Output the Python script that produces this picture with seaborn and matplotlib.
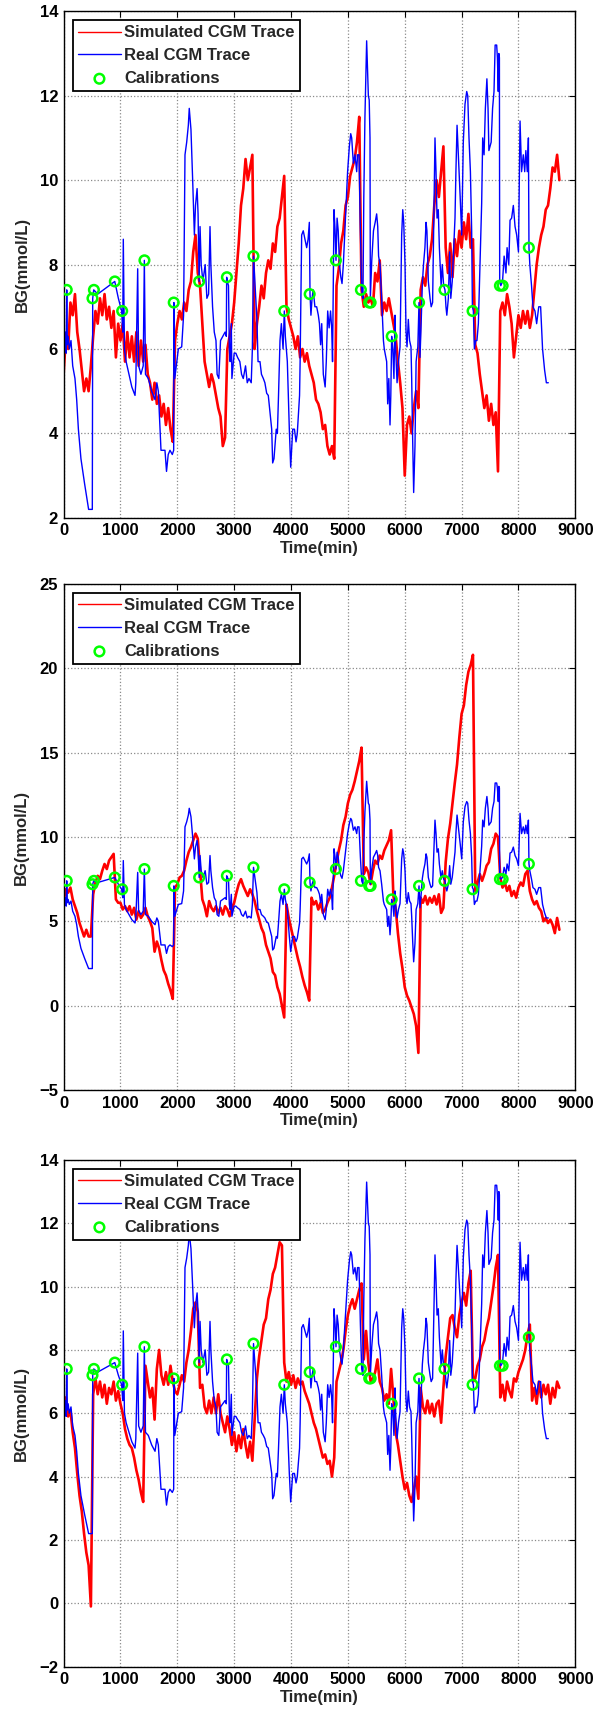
import matplotlib
matplotlib.use("Agg")
import matplotlib.pyplot as plt
import seaborn as sns

# simulated CGM traces, read every 40 min (0 .. 8720)
sim_time = list(range(0, 8721, 40))

sim_a = [5.4, 6.3, 6.0, 7.1, 6.8, 7.3, 6.4, 6.0, 5.5, 5.0, 5.3, 5.0, 5.6, 6.3, 6.9, 6.6, 7.2, 6.8, 7.3, 6.7, 7.0, 6.5, 6.9, 5.8, 6.6,
         6.2, 6.6, 5.7, 6.4, 5.8, 6.3, 5.7, 6.4, 5.6, 6.2, 5.7, 6.1, 5.4, 5.2, 4.8, 5.2, 4.7, 4.9, 4.4, 4.7, 4.2, 4.6, 4.1, 3.8, 6.2,
         6.6, 6.9, 6.7, 7.1, 6.9, 7.4, 7.6, 8.3, 8.7, 7.8, 7.5, 6.6, 5.7, 5.4, 5.1, 5.4, 5.2, 4.9, 4.6, 4.4, 3.7, 3.9, 6.0, 6.3, 6.6,
         7.1, 7.8, 8.5, 9.4, 9.8, 10.5, 10.0, 10.3, 10.6, 6.0, 6.6, 7.0, 7.5, 7.2, 7.8, 8.1, 7.9, 8.5, 8.3, 8.9, 9.1, 9.6, 10.1, 7.0, 6.7,
         6.5, 6.3, 6.0, 6.3, 5.8, 6.0, 5.7, 5.9, 5.6, 5.4, 5.2, 4.8, 4.7, 4.5, 4.1, 4.2, 3.7, 3.5, 3.7, 3.4, 7.5, 7.9, 8.5, 8.8, 9.4,
         9.6, 10.1, 10.3, 10.5, 10.9, 11.5, 7.4, 7.0, 7.3, 7.1, 7.2, 7.0, 7.8, 7.6, 8.1, 6.8, 7.1, 6.9, 7.2, 6.9, 6.6, 6.3, 5.7, 5.2, 4.6,
         3.0, 4.2, 4.4, 4.0, 4.6, 5.0, 4.6, 7.4, 7.7, 7.5, 8.0, 8.2, 8.6, 9.4, 10.0, 9.6, 10.2, 10.8, 8.4, 7.8, 8.5, 7.7, 8.6, 8.2, 8.8,
         8.4, 9.0, 8.6, 9.2, 8.4, 8.6, 6.1, 5.9, 5.4, 5.0, 4.6, 4.9, 4.3, 4.7, 4.2, 4.5, 3.1, 6.9, 7.1, 6.8, 7.3, 7.0, 6.6, 5.8, 6.3,
         6.8, 6.5, 6.9, 6.6, 6.9, 6.5, 6.8, 7.4, 8.0, 8.4, 8.7, 8.9, 9.3, 9.4, 9.8, 10.3, 10.2, 10.6, 10.0]

sim_b = [6.2, 6.9, 6.7, 7.0, 6.3, 5.9, 5.5, 4.9, 4.5, 4.1, 4.5, 4.1, 4.1, 6.6, 7.3, 7.7, 7.5, 8.0, 8.4, 8.1, 8.6, 8.8, 9.0, 6.3, 6.1,
         6.1, 5.7, 5.9, 5.6, 5.9, 5.4, 5.8, 5.1, 5.6, 5.2, 5.4, 5.8, 5.3, 5.0, 4.6, 3.2, 3.8, 3.4, 2.7, 2.1, 1.8, 1.3, 0.9, 0.4, 7.0,
         7.2, 7.6, 7.7, 8.0, 8.6, 9.1, 9.4, 9.8, 10.2, 9.9, 8.0, 6.3, 5.9, 5.3, 6.2, 5.8, 5.6, 5.9, 5.5, 5.8, 5.4, 5.9, 5.7, 5.3, 5.8,
         6.1, 6.7, 7.2, 7.5, 7.1, 6.8, 6.5, 6.9, 6.6, 6.2, 5.6, 5.1, 4.6, 4.3, 3.6, 3.2, 2.8, 2.0, 1.8, 1.1, 0.7, 0.0, -0.7, 6.0, 5.2,
         4.6, 4.0, 3.4, 2.8, 2.3, 1.7, 1.2, 0.8, 0.3, 6.4, 6.0, 6.2, 5.7, 6.1, 5.5, 5.7, 6.1, 6.4, 7.0, 7.7, 8.5, 9.2, 9.8, 10.7, 11.2,
         12.0, 12.5, 12.8, 13.3, 13.9, 14.5, 15.3, 7.8, 8.2, 7.9, 7.2, 8.0, 8.6, 8.4, 8.9, 8.7, 9.2, 9.5, 9.8, 10.4, 6.5, 5.8, 4.3, 3.1, 2.2,
         1.1, 0.6, 0.3, -0.1, -0.5, -1.2, -2.8, 6.4, 6.1, 6.5, 6.0, 6.4, 6.1, 6.5, 6.0, 6.6, 5.5, 5.8, 8.5, 9.9, 10.8, 12.0, 13.2, 14.3, 15.9,
         17.3, 17.8, 19.0, 19.8, 20.2, 20.8, 6.8, 7.3, 7.8, 7.4, 7.8, 8.3, 8.5, 9.3, 9.6, 10.2, 10.0, 7.6, 7.0, 7.3, 6.8, 7.1, 6.5, 6.8, 6.4,
         7.0, 7.3, 7.1, 7.8, 8.0, 6.8, 6.3, 6.0, 6.2, 5.8, 5.6, 5.0, 5.2, 4.9, 5.1, 4.8, 4.3, 5.2, 4.5]

sim_c = [6.0, 6.5, 5.9, 6.1, 5.4, 4.9, 4.1, 3.4, 2.9, 2.2, 1.6, 1.2, -0.1, 6.6, 7.1, 6.6, 7.0, 6.5, 6.9, 6.3, 6.8, 6.6, 7.0, 6.4, 6.7,
         6.3, 6.0, 5.5, 5.2, 5.0, 4.9, 4.6, 4.2, 3.9, 3.5, 3.2, 7.5, 7.0, 6.5, 6.8, 5.8, 7.4, 8.0, 7.2, 6.9, 7.3, 6.9, 7.5, 7.0, 6.7,
         6.6, 6.9, 7.2, 7.0, 7.6, 8.0, 8.6, 9.3, 9.5, 9.2, 6.8, 6.9, 6.2, 6.0, 6.4, 6.0, 6.5, 6.0, 6.6, 6.0, 5.7, 5.4, 5.9, 5.5, 5.0,
         5.4, 4.8, 5.3, 4.9, 5.5, 5.0, 4.6, 5.1, 4.5, 5.8, 7.1, 7.8, 8.3, 8.8, 9.0, 9.6, 9.9, 10.4, 10.6, 11.0, 11.4, 11.3, 7.6, 7.0, 7.3,
         6.9, 7.2, 6.8, 7.1, 6.9, 7.0, 6.7, 6.5, 6.3, 6.0, 5.7, 5.5, 5.2, 4.9, 4.6, 4.7, 4.4, 4.5, 4.0, 4.6, 7.0, 7.3, 7.6, 8.0, 8.6,
         9.1, 9.4, 9.6, 9.3, 9.6, 9.9, 10.1, 7.7, 8.6, 7.6, 7.0, 7.1, 7.3, 7.7, 7.0, 6.8, 6.4, 6.6, 6.3, 7.4, 6.5, 5.4, 5.0, 4.5, 4.0,
         3.6, 3.8, 3.4, 3.2, 3.6, 4.0, 3.3, 6.8, 6.2, 6.0, 6.4, 6.0, 6.3, 5.9, 6.3, 6.4, 5.7, 6.8, 7.8, 8.4, 9.0, 9.1, 8.7, 8.4, 9.1,
         9.5, 9.8, 9.4, 10.1, 10.5, 7.0, 7.1, 7.5, 7.7, 8.1, 8.3, 8.7, 9.0, 9.5, 10.0, 10.6, 11.0, 6.5, 6.9, 6.4, 7.0, 6.7, 6.5, 7.1, 7.0,
         7.3, 7.5, 7.7, 8.0, 8.5, 8.8, 6.4, 6.8, 6.3, 7.0, 6.5, 6.9, 6.6, 6.9, 6.3, 6.8, 6.5, 7.0, 6.8]

# real CGM trace (same in all three panels)
real_time = [0, 15, 30, 45, 55, 65, 80, 100, 130, 160, 200, 230, 260, 305, 370, 440, 505, 512, 530, 600, 700, 800, 900, 963,
             1021, 1040, 1050, 1070, 1100, 1168, 1200, 1256, 1270, 1303, 1320, 1360, 1400, 1420, 1440, 1490, 1549, 1608, 1640,
             1666, 1690, 1713, 1783, 1810, 1840, 1871, 1912, 1936, 1940, 1955, 2018, 2077, 2110, 2135, 2165, 2194, 2210, 2240,
             2270, 2300, 2320, 2348, 2365, 2384, 2400, 2420, 2450, 2490, 2520, 2550, 2575, 2590, 2620, 2650, 2680, 2700, 2730,
             2760, 2800, 2840, 2862, 2868, 2880, 2900, 2915, 2930, 2950, 2960, 3000, 3030, 3060, 3100, 3130, 3160, 3200, 3230,
             3260, 3300, 3320, 3340, 3360, 3380, 3400, 3420, 3454, 3480, 3513, 3540, 3572, 3600, 3630, 3660, 3677, 3700, 3740,
             3760, 3780, 3806, 3830, 3860, 3882, 3900, 3935, 3970, 3994, 4030, 4060, 4088, 4110, 4150, 4160, 4187, 4215, 4245,
             4275, 4300, 4322, 4334, 4350, 4370, 4390, 4420, 4451, 4480, 4500, 4520, 4540, 4568, 4600, 4620, 4645, 4670, 4695,
             4715, 4730, 4756, 4775, 4791, 4810, 4830, 4852, 4876, 4897, 4920, 4970, 4995, 5026, 5050, 5067, 5096, 5125, 5155,
             5170, 5196, 5220, 5243, 5265, 5280, 5300, 5330, 5360, 5375, 5389, 5395, 5420, 5450, 5480, 5506, 5525, 5540, 5565,
             5594, 5625, 5640, 5682, 5700, 5720, 5741, 5755, 5770, 5790, 5810, 5829, 5840, 5865, 5890, 5917, 5946, 5965, 5982,
             6005, 6022, 6040, 6063, 6085, 6110, 6122, 6140, 6157, 6180, 6200, 6230, 6251, 6268, 6285, 6310, 6330, 6355, 6375,
             6390, 6415, 6445, 6465, 6490, 6509, 6532, 6550, 6568, 6590, 6609, 6640, 6660, 6684, 6708, 6725, 6740, 6767, 6790,
             6810, 6835, 6884, 6900, 6920, 6943, 6975, 7002, 7030, 7060, 7090, 7108, 7130, 7155, 7177, 7190, 7207, 7225, 7248,
             7270, 7295, 7320, 7353, 7371, 7395, 7418, 7445, 7465, 7480, 7500, 7520, 7545, 7570, 7590, 7617, 7630, 7645, 7655,
             7665, 7670, 7690, 7720, 7748, 7780, 7800, 7830, 7852, 7880, 7910, 7940, 7969, 8000, 8028, 8055, 8085, 8110, 8130,
             8155, 8175, 8185, 8200, 8230, 8255, 8290, 8320, 8357, 8390, 8424, 8460, 8491, 8525]
real_bg = [8.3, 6.0, 6.4, 5.9, 7.4, 6.1, 6.3, 6.0, 6.2, 5.6, 5.3, 4.8, 4.1, 3.4, 2.8, 2.2, 2.2, 7.2, 7.4, 7.3, 7.4, 7.5, 7.6, 7.2,
           6.9, 6.4, 8.6, 6.0, 5.7, 5.3, 5.1, 4.9, 5.2, 7.9, 5.6, 5.4, 5.6, 8.1, 5.4, 5.3, 5.0, 4.8, 5.2,
           5.0, 4.3, 3.6, 3.6, 3.1, 3.5, 3.6, 3.5, 3.6, 7.1, 5.3, 6.0, 6.05, 6.8, 10.6, 10.9, 11.3, 11.7, 11.2,
           10.0, 8.7, 9.4, 9.8, 9.2, 7.6, 8.9, 8.0, 7.6, 8.0, 7.2, 7.3, 8.9, 8.0, 7.0, 6.4, 6.2, 5.4, 5.3,
           6.2, 6.3, 6.4, 6.3, 7.7, 7.6, 7.5, 6.0, 5.7, 6.6, 5.3, 5.9, 5.9, 5.8, 5.7, 5.4, 5.3, 5.6, 5.2,
           5.3, 5.2, 6.0, 8.2, 7.7, 7.2, 6.7, 5.7, 5.7, 5.4, 5.3, 5.2, 4.95, 4.9, 4.5, 4.1, 3.3, 3.4, 4.1,
           4.0, 4.9, 6.2, 6.6, 6.0, 6.9, 6.3, 5.7, 4.1, 3.2, 4.1, 4.1, 3.8, 4.0, 4.9, 5.7, 8.7, 8.8, 8.6,
           8.4, 8.6, 9.0, 7.3, 6.8, 7.2, 7.4, 7.0, 7.0, 6.8, 6.6, 6.1, 6.6, 5.4, 5.1, 5.7, 6.9, 6.5, 6.9,
           6.5, 5.7, 9.3, 8.8, 8.1, 9.1, 8.8, 8.0, 7.7, 7.55, 8.0, 9.45, 10.2, 10.8, 11.1, 11.0, 10.4, 10.6, 10.2,
           10.6, 10.6, 8.8, 7.4, 7.2, 9.6, 11.5, 13.3, 12.0, 11.9, 11.0, 7.2, 8.1, 8.8, 9.0, 9.2, 8.9, 8.2, 8.0,
           7.2, 6.2, 6.0, 5.7, 4.7, 5.3, 4.2, 4.9, 6.3, 6.0, 5.3, 6.8, 6.0, 5.2, 5.7, 6.05, 8.7, 9.3, 9.0,
           8.0, 6.45, 6.05, 6.7, 6.2, 6.05, 5.3, 3.8, 2.6, 3.7, 5.7, 6.05, 7.1, 5.8, 6.45, 7.55, 8.0, 8.4, 9.0,
           8.8, 7.6, 7.2, 7.0, 7.1, 8.8, 11.0, 10.2, 9.1, 9.3, 8.4, 7.5, 8.0, 7.5, 7.4, 7.0, 6.8, 7.2, 8.3,
           7.2, 7.6, 9.1, 10.2, 11.3, 10.6, 9.6, 8.7, 10.9, 11.8, 12.1, 12.0, 11.0, 10.2, 8.8, 7.0, 6.9, 6.0, 6.2,
           6.2, 6.6, 7.8, 9.45, 11.0, 10.6, 11.7, 12.4, 11.7, 10.7, 10.8, 10.9, 11.7, 12.1, 13.2, 13.2, 12.9, 12.1, 13.0,
           12.9, 7.6, 7.5, 7.6, 8.2, 7.8, 8.4, 8.0, 9.05, 9.1, 9.4, 8.9, 8.7, 8.3, 11.4, 10.2, 10.6, 10.2, 10.7,
           10.2, 11.0, 8.4, 8.0, 7.5, 7.0, 6.9, 6.6, 7.0, 7.0, 6.0, 5.5, 5.2, 5.2]

# calibration points
cal_time = [55, 508, 533, 901, 1030, 1422, 1937, 2384, 2872, 3339, 3881, 4328, 4789, 5229, 5375, 5400,
            5771, 6252, 6699, 7193, 7674, 7722, 8183]
cal_bg = [7.4, 7.2, 7.4, 7.6, 6.9, 8.1, 7.1, 7.6, 7.7, 8.2, 6.9, 7.3, 8.1, 7.4, 7.1, 7.1,
          6.3, 7.1, 7.4, 6.9, 7.5, 7.5, 8.4]

panel_sims = [sim_a, sim_b, sim_c]
panel_yticks = [[2, 4, 6, 8, 10, 12, 14],
                [-5, 0, 5, 10, 15, 20, 25],
                [-2, 0, 2, 4, 6, 8, 10, 12, 14]]
xticks = [0, 1000, 2000, 3000, 4000, 5000, 6000, 7000, 8000, 9000]

sns.set_style("white")
plt.rcParams['font.family'] = ['Liberation Sans', 'DejaVu Sans']
plt.rcParams['font.weight'] = 'bold'
plt.rcParams['axes.labelweight'] = 'bold'


def draw_panel(ax, sim, yticks):
    sns.lineplot(x=sim_time, y=sim, ax=ax, color='#ff0000', lw=1.9,
                 estimator=None, sort=False, label='Simulated CGM Trace')
    sns.lineplot(x=real_time, y=real_bg, ax=ax, color='#0000ff', lw=1.0,
                 estimator=None, sort=False, label='Real CGM Trace')
    sns.scatterplot(x=cal_time, y=cal_bg, ax=ax, marker='o', s=48,
                    color='#00ff00', linewidth=1.8, label='Calibrations', zorder=5)
    pts = ax.collections[-1]
    pts.set_facecolor('none')
    pts.set_edgecolor('#00ff00')

    ax.set_xlim(0, 9000)
    ax.set_ylim(yticks[0], yticks[-1])
    ax.set_xticks(xticks)
    ax.set_yticks(yticks)
    ax.set_xlabel('Time(min)', fontsize=12, fontweight='bold', labelpad=2)
    ax.set_ylabel('BG(mmol/L)', fontsize=12, fontweight='bold', labelpad=7)
    ax.grid(True, color='#8a8a8a', linestyle=':', linewidth=0.9)
    ax.set_axisbelow(True)
    ax.tick_params(direction='in', top=True, right=True, length=4, width=0.8,
                   labelsize=12, pad=4, colors='black')
    for lab in ax.get_xticklabels() + ax.get_yticklabels():
        lab.set_fontweight('bold')
    for sp in ax.spines.values():
        sp.set_color('black')
        sp.set_linewidth(1.0)

    handles, labels = ax.get_legend_handles_labels()
    leg = ax.legend(handles, labels, loc='upper left', fontsize=12, frameon=True,
                    fancybox=False, framealpha=1, edgecolor='black',
                    borderaxespad=0.55, borderpad=0.3, labelspacing=0.47,
                    handlelength=2.6, handletextpad=0.2, scatterpoints=1)
    leg.get_frame().set_linewidth(1.3)
    for line in leg.get_lines():
        line.set_linewidth(1.0)
    for t in leg.get_texts():
        t.set_fontweight('bold')


fig = plt.figure(figsize=(6.04, 17.09), dpi=100)
positions = [[0.1053, 0.6970, 0.8472, 0.2964],
             [0.1053, 0.3622, 0.8472, 0.2961],
             [0.1053, 0.0248, 0.8472, 0.2965]]
for pos, sim, yt in zip(positions, panel_sims, panel_yticks):
    ax = fig.add_axes(pos)
    draw_panel(ax, sim, yt)

fig.savefig('out.png', dpi=100)
